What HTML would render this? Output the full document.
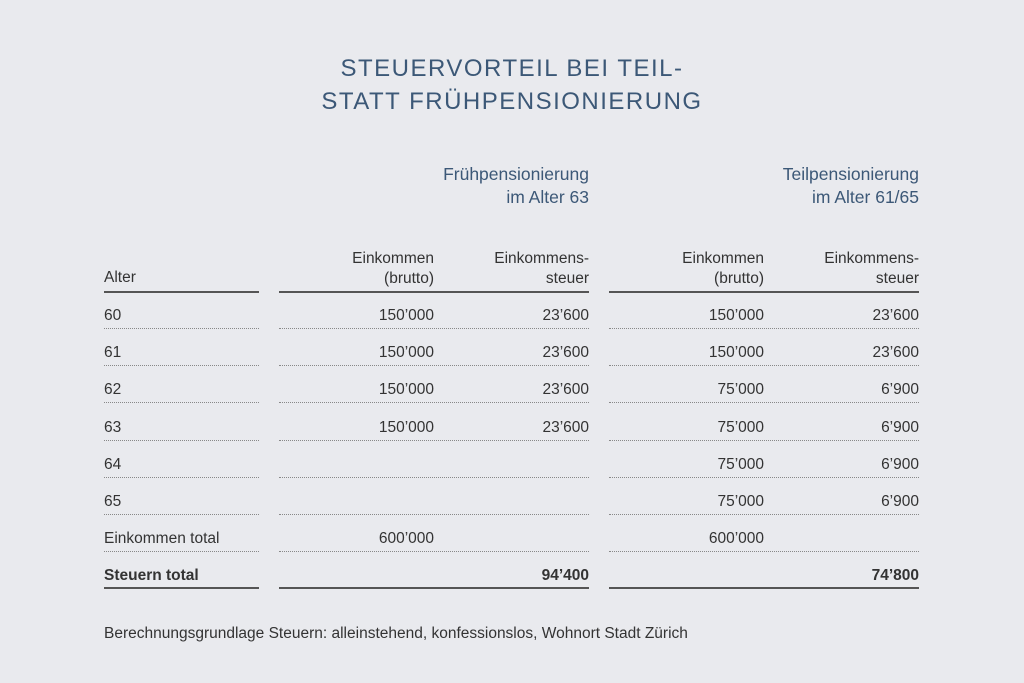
<!DOCTYPE html>
<html><head><meta charset="utf-8"><style>
body{margin:0;width:1024px;height:683px;background:#e9eaee;font-family:"Liberation Sans",sans-serif;color:#333;position:relative;overflow:hidden}
.t{position:absolute;left:0;width:1024px;text-align:center;color:#3c5877;font-size:24px;letter-spacing:1.5px}
.a{position:absolute;font-size:15.5px;white-space:nowrap;line-height:18px}
.r{text-align:right}
.h{color:#3c5877;font-size:17.5px;line-height:23px;text-align:right;position:absolute}
.ln{position:absolute;height:0}
.s{border-top:2px solid #555}
.d{border-top:1.5px dotted #888}
b{font-weight:bold}
</style></head><body>
<div class="t" style="top:55px">STEUERVORTEIL BEI TEIL-</div>
<div class="t" style="top:88px">STATT FRÜHPENSIONIERUNG</div>
<div class="h" style="right:435px;top:163px">Frühpensionierung<br>im Alter 63</div>
<div class="h" style="right:105px;top:163px">Teilpensionierung<br>im Alter 61/65</div>
<div class="a" style="left:104px;top:269px">Alter</div>
<div class="a r" style="right:590px;top:249px;line-height:20px">Einkommen<br>(brutto)</div>
<div class="a r" style="right:435px;top:249px;line-height:20px">Einkommens-<br>steuer</div>
<div class="a r" style="right:260px;top:249px;line-height:20px">Einkommen<br>(brutto)</div>
<div class="a r" style="right:105px;top:249px;line-height:20px">Einkommens-<br>steuer</div>
<div class="ln s" style="left:104px;width:155px;top:291px"></div>
<div class="ln s" style="left:279px;width:310px;top:291px"></div>
<div class="ln s" style="left:609px;width:310px;top:291px"></div>
<div id="rows"></div>
<script>
var data=[["60","150’000","23’600","150’000","23’600"],["61","150’000","23’600","150’000","23’600"],["62","150’000","23’600","75’000","6’900"],["63","150’000","23’600","75’000","6’900"],["64","","","75’000","6’900"],["65","","","75’000","6’900"],["Einkommen total","600’000","","600’000",""],["<b>Steuern total</b>","","<b>94’400</b>","","<b>74’800</b>"]];
var h="",rights=[590,435,260,105];
data.forEach(function(r,i){var y=307+i*37.2;
h+='<div class="a" style="left:104px;top:'+y+'px">'+r[0]+'</div>';
for(var k=1;k<5;k++)h+='<div class="a r" style="right:'+rights[k-1]+'px;top:'+y+'px">'+r[k]+'</div>';
var ly=y+21,c=i==7?'s':'d';if(i==7)ly=y+20;
h+='<div class="ln '+c+'" style="left:104px;width:155px;top:'+ly+'px"></div><div class="ln '+c+'" style="left:279px;width:310px;top:'+ly+'px"></div><div class="ln '+c+'" style="left:609px;width:310px;top:'+ly+'px"></div>';});
document.getElementById('rows').innerHTML=h;
</script>
<div class="a" style="left:104px;top:625px">Berechnungsgrundlage Steuern: alleinstehend, konfessionslos, Wohnort Stadt Zürich</div>
</body></html>
